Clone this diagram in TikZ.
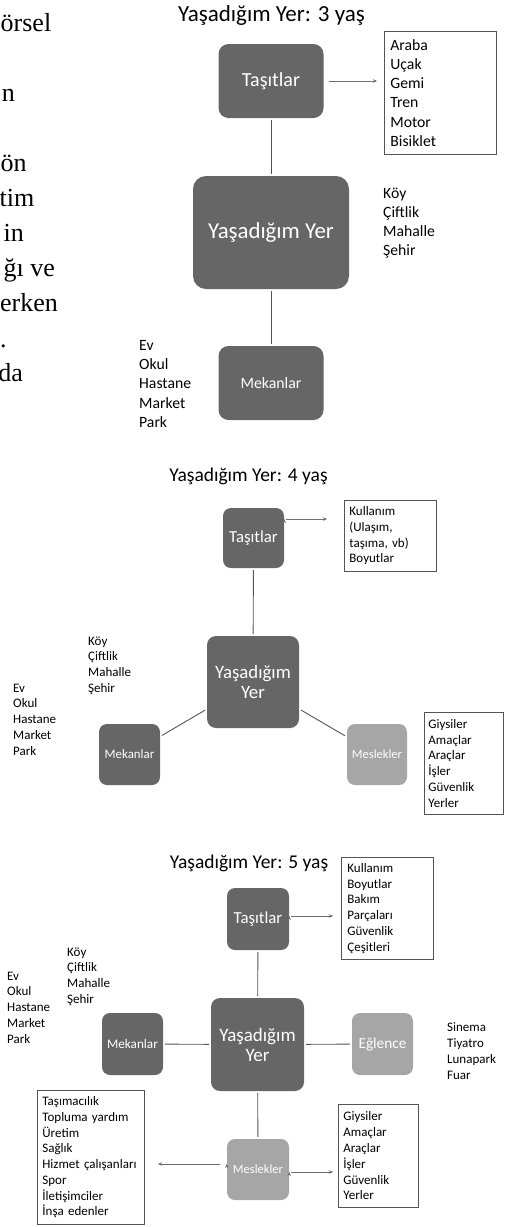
\documentclass[tikz,border=0pt]{standalone}
\usepackage{fontspec}
\setmainfont{Carlito}
\newfontfamily\govde{Liberation Serif}
\usetikzlibrary{arrows.meta}
\definecolor{koyu}{RGB}{102,102,102}
\definecolor{acik}{RGB}{166,166,166}
\definecolor{cizgi}{RGB}{85,85,85}
\definecolor{okrengi}{RGB}{110,110,110}
\newcommand{\fs}[2]{\fontsize{#1}{#2}\selectfont}

\begin{document}
\begin{tikzpicture}[x=1pt, y=-1pt,
    kutu/.style={rectangle, fill=koyu, text=white, inner sep=0pt, align=center},
    soluk/.style={kutu, fill=acik},
    liste/.style={draw=cizgi, line width=0.8pt, anchor=north west, align=left, inner ysep=0pt},
    yazi/.style={anchor=west, align=left, inner sep=0pt},
    parca/.style={anchor=base east, inner sep=0pt, font=\govde\fs{26}{35}},
    baslik/.style={inner sep=0pt},
    baglanti/.style={draw=cizgi, line width=0.9pt, shorten >=2pt, shorten <=2pt},
    ok/.style={draw=okrengi, line width=0.7pt, -{Stealth[length=4pt,width=3.5pt]}, shorten <=2pt}]
                \useasboundingbox (0,0) rectangle (504,1227);
                \clip (0,0) rectangle (504,1227);

                \node[parca, anchor=base west] at (0.5, 31) (p1) {örsel};
                \node[parca] at (15, 101) (p2) {n};
                \node[parca, anchor=base west] at (0.5, 171) (p3) {ön};
                \node[parca] at (34.5, 206) (p4) {tim};
                \node[parca] at (24, 241) (p5) {in};
                \node[parca] at (55, 276) (p6) {ğı ve};
                \node[parca] at (58, 311) (p7) {erken};
                \node[parca, anchor=base west] at (0, 347) (p8) {.};
                \node[parca] at (23, 381) (p9) {da};

                \node[baslik, font=\fs{23}{28}] at (271.5, 15) (b3) {Yaşadığım Yer: 3 yaş};
                \node[kutu, rounded corners=10pt, minimum width=105pt, minimum height=74pt, font=\fs{20}{24}] at (271, 81) (t3) {Taşıtlar};
                \node[kutu, rounded corners=13pt, minimum width=156pt, minimum height=113pt, font=\fs{22.8}{27}] at (271, 232.5) (y3) {Yaşadığım Yer};
                \node[kutu, rounded corners=10pt, minimum width=105pt, minimum height=74pt, font=\fs{15.8}{19}] at (271, 383) (m3) {Mekanlar};
                \node[liste, text width=100pt, inner xsep=6pt, minimum height=123pt, font=\fs{15.7}{19.2}] at (384, 31) (l3) {Araba\\Uçak\\Gemi\\Tren\\Motor\\Bisiklet};
                \node[yazi, font=\fs{15.7}{19.2}] at (383, 223) (k3) {Köy\\Çiftlik\\Mahalle\\Şehir};
                \node[yazi, font=\fs{15.7}{19.1}] at (139, 384) (e3) {Ev\\Okul\\Hastane\\Market\\Park};
                \coordinate (a3) at (377, 81);

            \path[baglanti] (t3) edge (y3);
            \path[baglanti] (y3) edge (m3);
            \path[ok] (t3) edge[shorten <=5pt] (a3);

                \node[baslik, font=\fs{19.5}{24}] at (248.5, 476) (b4) {Yaşadığım Yer: 4 yaş};
                \node[kutu, rounded corners=8pt, minimum width=61pt, minimum height=60pt, font=\fs{16.8}{20}] at (253.5, 538) (t4) {Taşıtlar};
                \node[kutu, rounded corners=9pt, minimum width=92pt, minimum height=92pt, font=\fs{18.8}{20}] at (253, 682) (y4) {Yaşadığım\\Yer};
                \node[kutu, rounded corners=8pt, minimum width=61pt, minimum height=61pt, font=\fs{12.9}{15}] at (129.5, 754.5) (m4) {Mekanlar};
                \node[soluk, rounded corners=8pt, minimum width=60pt, minimum height=61pt, font=\fs{12.5}{15}] at (377, 754.5) (s4) {Meslekler};
                \node[liste, text width=82pt, inner xsep=5pt, minimum height=71pt, font=\fs{13}{15.7}] at (344, 500) (l4) {Kullanım\\(Ulaşım,\\taşıma, vb)\\Boyutlar};
                \node[liste, text width=71pt, inner xsep=4pt, minimum height=102pt, font=\fs{13}{15.8}] at (424, 712) (g4) {Giysiler\\Amaçlar\\Araçlar\\İşler\\Güvenlik\\Yerler};
                \node[yazi, font=\fs{13}{15.7}] at (88, 665.5) (k4) {Köy\\Çiftlik\\Mahalle\\Şehir};
                \node[yazi, font=\fs{13}{15.75}] at (13, 719.5) (e4) {Ev\\Okul\\Hastane\\Market\\Park};
                \coordinate (a4) at (327, 519);

            \path[baglanti] (t4) edge (y4);
            \path[baglanti] (y4) edge (m4);
            \path[baglanti] (y4) edge (s4);
            \path[ok] (t4.east |- a4) edge (a4);

                \node[baslik, font=\fs{19.5}{24}] at (249, 863) (b5) {Yaşadığım Yer: 5 yaş};
                \node[kutu, rounded corners=8pt, minimum width=62pt, minimum height=62pt, font=\fs{16.8}{20}] at (258, 919) (t5) {Taşıtlar};
                \node[kutu, rounded corners=9pt, minimum width=93pt, minimum height=93pt, font=\fs{19}{20}] at (257.5, 1044.5) (y5) {Yaşadığım\\Yer};
                \node[kutu, rounded corners=8pt, minimum width=61pt, minimum height=62pt, font=\fs{13.2}{15}] at (132.5, 1044) (m5) {Mekanlar};
                \node[soluk, rounded corners=8pt, minimum width=61pt, minimum height=62pt, font=\fs{15.3}{18}] at (382.5, 1044) (g5) {Eğlence};
                \node[soluk, rounded corners=8pt, minimum width=62pt, minimum height=61pt, font=\fs{12.5}{15}] at (258, 1169.5) (s5) {Meslekler};
                \node[liste, text width=80pt, inner xsep=6pt, minimum height=102pt, font=\fs{13}{15.8}] at (341, 857) (l5) {Kullanım\\Boyutlar\\Bakım\\Parçaları\\Güvenlik\\Çeşitleri};
                \node[liste, text width=97pt, inner xsep=5pt, minimum height=134pt, font=\fs{13}{15.7}] at (37, 1090) (h5) {Taşımacılık\\Topluma yardım\\Üretim\\Sağlık\\Hizmet çalışanları\\Spor\\İletişimciler\\İnşa edenler};
                \node[liste, text width=70pt, inner xsep=5pt, minimum height=103pt, font=\fs{13}{15.8}] at (338, 1104) (r5) {Giysiler\\Amaçlar\\Araçlar\\İşler\\Güvenlik\\Yerler};
                \node[yazi, font=\fs{13}{15.7}] at (67, 976.5) (k5) {Köy\\Çiftlik\\Mahalle\\Şehir};
                \node[yazi, font=\fs{13}{15.75}] at (7, 1007.5) (e5) {Ev\\Okul\\Hastane\\Market\\Park};
                \node[yazi, font=\fs{13}{16}] at (447, 1051) (n5) {Sinema\\Tiyatro\\Lunapark\\Fuar};
                \coordinate (a5) at (333, 916);
                \coordinate (c5) at (158, 1164);
                \coordinate (d5) at (333, 1172);

            \path[baglanti] (t5) edge (y5);
            \path[baglanti] (y5) edge (m5);
            \path[baglanti] (y5) edge (g5);
            \path[baglanti] (y5) edge (s5);
            \path[ok] (t5.east |- a5) edge (a5);
            \path[ok] (s5.west |- c5) edge[shorten <=7pt] (c5);
            \path[ok] (s5.east |- d5) edge (d5);

            \end{tikzpicture}
\end{document}
